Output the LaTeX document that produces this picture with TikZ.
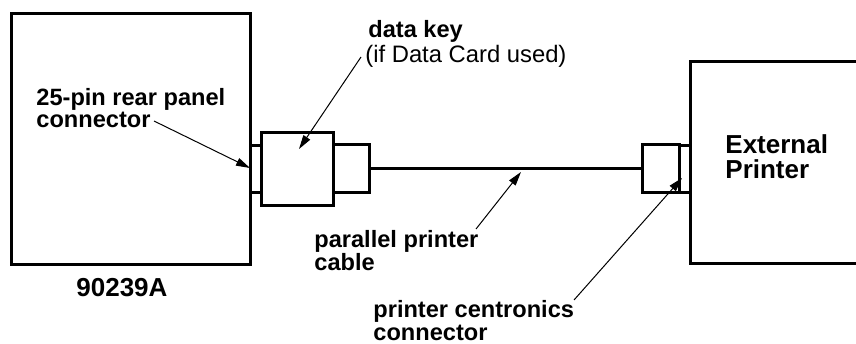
\documentclass[tikz,border=0pt]{standalone}
\usepackage{fontspec}
\setmainfont{Liberation Sans}
\usetikzlibrary{arrows.meta,fit}
\tikzset{
  thickline/.style={line width=1.5pt},
  box/.style={draw, line width=1.5pt, inner sep=0pt},
  lbl/.style={font=\fontsize{11.8}{13}\selectfont\bfseries, inner sep=0pt, anchor=base west},
  lblreg/.style={font=\fontsize{11.9}{13}\selectfont, inner sep=0pt, anchor=base west},
  big/.style={font=\fontsize{13}{14}\selectfont\bfseries, inner sep=0pt, anchor=base west},
  pointer/.style={line width=0.5pt, -{Triangle[length=7pt,width=4pt]}}
}
\begin{document}
\begin{tikzpicture}[x=0.5pt,y=-0.5pt]
\useasboundingbox (0,0) rectangle (856,343);
% main boxes
\node[box, fit={(11,13) (250,264)}] (pc) {};
\node[box, fit={(690,61) (880,263)}] (prn) {};
% left stub
\draw[thickline] (250,145) -- (261,145);
\draw[thickline] (250,192) -- (261,192);
% data key and plug
\node[box, fit={(261,132) (333,205)}] (dkey) {};
\node[box, fit={(333,144) (369,192)}] (plug) {};
% right connector
\node[box, fit={(642,144) (679,192)}] (cent) {};
\draw[thickline] (679,145) -- (690,145);
\draw[thickline] (679,192) -- (690,192);
% cable
\draw[thickline] (plug.east) -- (cent.west);
% labels
\node[lbl] (pin1) at (36,105) {25-pin rear panel};
\node[lbl] (pin2) at (36,127) {connector};
\node[lbl] (dk1) at (368,37) {data key};
\node[lblreg] (dk2) at (365,62) {(if Data Card used)};
\node[big] (model) at (76,296) {90239A};
\node[lbl] (pp1) at (314,247) {parallel printer};
\node[lbl] (pp2) at (314,270) {cable};
\node[lbl] (ce1) at (373,317) {printer centronics};
\node[lbl] (ce2) at (373,340) {connector};
\node[big] (ext1) at (725,153) {External};
\node[big] (ext2) at (725,178) {Printer};
% arrow targets
\coordinate (pinT) at (250,168);
\coordinate (dkT) at (299,149);
\coordinate (cabT) at (521,172);
\coordinate (ceT) at (682,178);
\coordinate (pinS) at (154,121);
\coordinate (dkS) at (361,57);
\coordinate (cabS) at (476,229);
\coordinate (ceS) at (574,300);
% pointers
\draw[pointer] (pinS) -- (pinT);
\draw[pointer] (dkS) -- (dkT);
\draw[pointer] (cabS) -- (cabT);
\draw[pointer] (ceS) -- (ceT);
\end{tikzpicture}
\end{document}
